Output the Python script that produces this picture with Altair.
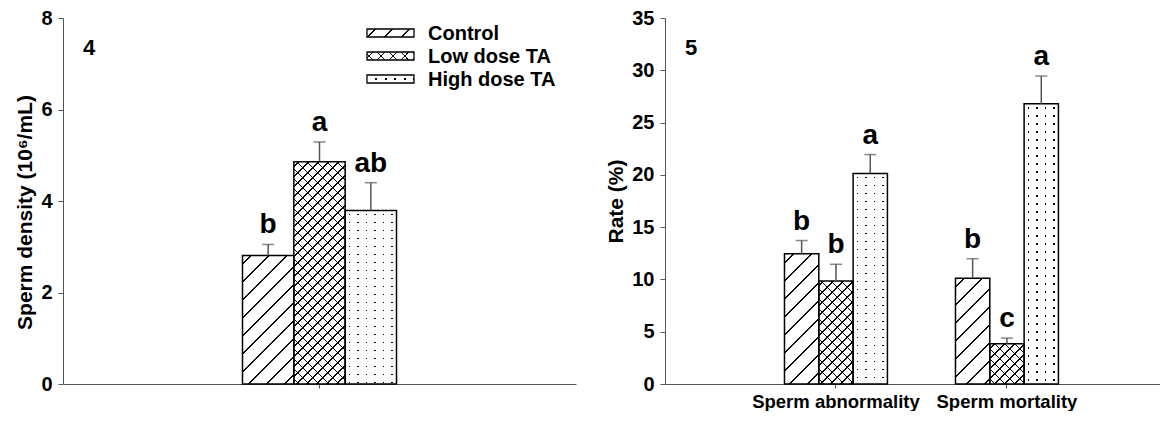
import altair as alt

# ---------------- data ----------------
groups = ["Control", "Low dose TA", "High dose TA"]
panel_labels = ["4", "5"]

density_category = ["Sperm density"]
density_mean = [2.81, 4.86, 3.79]
density_upper = [3.05, 5.29, 4.40]
density_letters = ["b", "a", "ab"]
density_ticks = [0, 2, 4, 6, 8]

rate_categories = ["Sperm abnormality", "Sperm mortality"]
abnormality_mean = [12.45, 9.86, 20.14]
abnormality_upper = [13.72, 11.45, 21.94]
abnormality_letters = ["b", "b", "a"]
mortality_mean = [10.12, 3.86, 26.8]
mortality_upper = [11.98, 4.39, 29.45]
mortality_letters = ["b", "c", "a"]
rate_ticks = [0, 5, 10, 15, 20, 25, 30, 35]

# ---------------- layout / style ----------------
FONT = "Liberation Sans"
GRAY = "#555555"
CLEAR = "rgba(255,255,255,0)"
PLOT_H = 366
LEFT_W = 513
RIGHT_W = 495
LEFT_PO = 1.0
LEFT_PI = 0.142061
RIGHT_PO = 0.6464
RIGHT_PI = 0.398
RIGHT_ALIGN = 0.5405

left_bar_w = LEFT_W * (1 - LEFT_PI) / (1 - LEFT_PI + 2 * LEFT_PO) / 3
right_bar_w = RIGHT_W * (1 - RIGHT_PI) / (2 - RIGHT_PI + 2 * RIGHT_PO) / 3


# ---------------- hatch patterns built as linear gradients ----------------
def stripe_stops(length, spacing, width, phase, ink, paper):
    stops = [{"offset": 0.0, "color": paper}]
    c = phase
    while c - width / 2 < length:
        a = min(1.0, max(0.0, (c - width / 2) / length))
        b = min(1.0, max(0.0, (c + width / 2) / length))
        if b > a:
            stops += [
                {"offset": round(a, 5), "color": paper},
                {"offset": round(a, 5), "color": ink},
                {"offset": round(b, 5), "color": ink},
                {"offset": round(b, 5), "color": paper},
            ]
        c += spacing
    stops.append({"offset": 1.0, "color": paper})
    return stops


def hatch(w, h, kind, spacing, width, phase, ink, paper):
    if kind == "/":
        length = w + h
        k = length / (w * w + h * h)
        x1, y1, x2, y2 = 0, 0, k * w, k * h
    elif kind == "\\":
        length = w + h
        k = length / (w * w + h * h)
        x1, y1, x2, y2 = 0, 1, k * w, 1 - k * h
    elif kind == "|":
        length = w
        x1, y1, x2, y2 = 0, 0, 1, 0
    else:
        length = h
        x1, y1, x2, y2 = 0, 0, 0, 1
    return {"gradient": "linear", "x1": x1, "y1": y1, "x2": x2, "y2": y2,
            "stops": stripe_stops(length, spacing, width, phase, ink, paper)}


def bar_fills(group, w, h, legend=False):
    if group == groups[0]:
        sp = 17 if legend else 18
        return [hatch(w, h, "/", sp, 2.0, sp / 2, "#000000", "#ffffff"), CLEAR, CLEAR]
    if group == groups[1]:
        sp = 12 if legend else 10
        return [hatch(w, h, "/", sp, 1.5, sp / 2, "#000000", "#ffffff"),
                hatch(w, h, "\\", sp, 1.5, sp / 2, "#000000", CLEAR), CLEAR]
    sx = 9.5 if legend else 8.5
    px = ((w % sx) + sx) / 2
    sy, py = (100, h / 2) if legend else (8, 4)
    return ["#000000",
            hatch(w, h, "|", sx, 1.7, px, CLEAR, "#ffffff"),
            hatch(w, h, "-", sy, 1.7, py, CLEAR, "#ffffff")]


def build_rows(cats, means, uppers, letters, ymax, bar_w):
    rows = []
    for c, ms, us, ls in zip(cats, means, uppers, letters):
        for g, m, u, l in zip(groups, ms, us, ls):
            f = bar_fills(g, bar_w, m / ymax * PLOT_H)
            rows.append({"category": c, "group": g, "value": m, "upper": u,
                         "letter": l, "g1": f[0], "g2": f[1], "g3": f[2]})
    return rows


left_rows = build_rows(density_category, [density_mean], [density_upper],
                       [density_letters], 8, left_bar_w)
right_rows = build_rows(rate_categories, [abnormality_mean, mortality_mean],
                        [abnormality_upper, mortality_upper],
                        [abnormality_letters, mortality_letters], 35, right_bar_w)

LEG_W, LEG_H = 47.3, 8
legend_rows = []
for g in groups:
    f = bar_fills(g, LEG_W, LEG_H, legend=True)
    legend_rows.append({"group": g, "g1": f[0], "g2": f[1], "g3": f[2]})


def panel(rows, cats, ymax, y_axis, x_scale, xo_scale, x_axis, label):
    base = alt.Chart(alt.Data(values=rows))
    x = alt.X("category:N", sort=cats, scale=x_scale, axis=x_axis, title=None)
    xo = alt.XOffset("group:N", sort=groups, scale=xo_scale)
    ys = alt.Scale(domain=[0, ymax], nice=False, zero=True)
    yv = alt.Y("value:Q", scale=ys, axis=y_axis, stack=None)
    yu = alt.Y("upper:Q", scale=ys, axis=y_axis)
    layers = [
        base.mark_bar(strokeWidth=0).encode(
            x=x, xOffset=xo, y=yv, fill=alt.Fill(f"{k}:N", scale=None))
        for k in ("g1", "g2", "g3")
    ]
    layers.append(base.mark_bar(fill="transparent", stroke="black", strokeWidth=1.5)
                  .encode(x=x, xOffset=xo, y=yv))
    layers.append(base.mark_rule(color=GRAY, strokeWidth=1.5)
                  .encode(x=x, xOffset=xo, y=yv, y2=alt.Y2("upper:Q")))
    layers.append(base.mark_tick(color=GRAY, thickness=1.5, size=12)
                  .encode(x=x, xOffset=xo, y=yu))
    layers.append(base.mark_text(font=FONT, fontSize=28, fontWeight="bold",
                                 baseline="alphabetic", dy=-11, color="black")
                  .encode(x=x, xOffset=xo, y=yu, text="letter:N"))
    layers.append(alt.Chart(alt.Data(values=[{"label": label}]))
                  .mark_text(font=FONT, fontSize=22, fontWeight="bold",
                             align="left", baseline="alphabetic", color="black")
                  .encode(x=alt.value(20), y=alt.value(37), text="label:N"))
    return alt.layer(*layers)


left_main = panel(
    left_rows, density_category, 8,
    alt.Axis(values=density_ticks, title="Sperm density (10⁶/mL)", titleY=194),
    alt.Scale(paddingInner=LEFT_PI, paddingOuter=LEFT_PO),
    alt.Scale(paddingInner=0, paddingOuter=0),
    alt.Axis(labels=False, tickSize=4, title=None),
    panel_labels[0],
)

leg_scale = alt.Scale(type="band", domain=groups, range=[3.5, 72.5],
                      paddingInner=0.652, paddingOuter=0.326)
leg_base = alt.Chart(alt.Data(values=legend_rows))
leg_y = alt.Y("group:N", scale=leg_scale, axis=None, sort=groups)
leg_layers = [
    leg_base.mark_rect(strokeWidth=0).encode(
        x=alt.value(304), x2=alt.value(351), y=leg_y, fill=alt.Fill(f"{k}:N", scale=None))
    for k in ("g1", "g2", "g3")
]
leg_layers.append(leg_base.mark_rect(fill="transparent", stroke="black", strokeWidth=1.3)
                  .encode(x=alt.value(304), x2=alt.value(351), y=leg_y))
leg_layers.append(leg_base.mark_text(font=FONT, fontSize=20, fontWeight="bold",
                                     align="left", baseline="middle", dy=1, color="black")
                  .encode(x=alt.value(365), y=leg_y, text="group:N"))
legend = alt.layer(*leg_layers)

left = alt.layer(left_main, legend).resolve_scale(y="independent").properties(
    width=LEFT_W, height=PLOT_H)

right = panel(
    right_rows, rate_categories, 35,
    alt.Axis(values=rate_ticks, title="Rate (%)"),
    alt.Scale(paddingInner=RIGHT_PI, paddingOuter=RIGHT_PO, align=RIGHT_ALIGN),
    alt.Scale(paddingInner=0, paddingOuter=0),
    alt.Axis(labelAngle=0, labelFontSize=18.5, tickSize=4, labelPadding=4, title=None),
    panel_labels[1],
).properties(width=RIGHT_W, height=PLOT_H)

chart = (
    alt.hconcat(left, right, spacing=29)
    .resolve_scale(xOffset="independent", x="independent", y="independent")
    .properties(padding={"left": 6, "top": 0, "right": 0, "bottom": 0})
    .configure_view(stroke=None)
    .configure_axis(
        labelFont=FONT, labelFontSize=20, labelFontWeight="bold", labelColor="#000000",
        titleFont=FONT, titleFontSize=21, titleFontWeight="bold", titleColor="#000000",
        domainColor=GRAY, tickColor=GRAY, domainWidth=1, tickWidth=1, grid=False,
        labelPadding=6, titlePadding=5, tickSize=5,
    )
)

chart.save("out.html", embed_options={"renderer": "svg", "actions": False})
